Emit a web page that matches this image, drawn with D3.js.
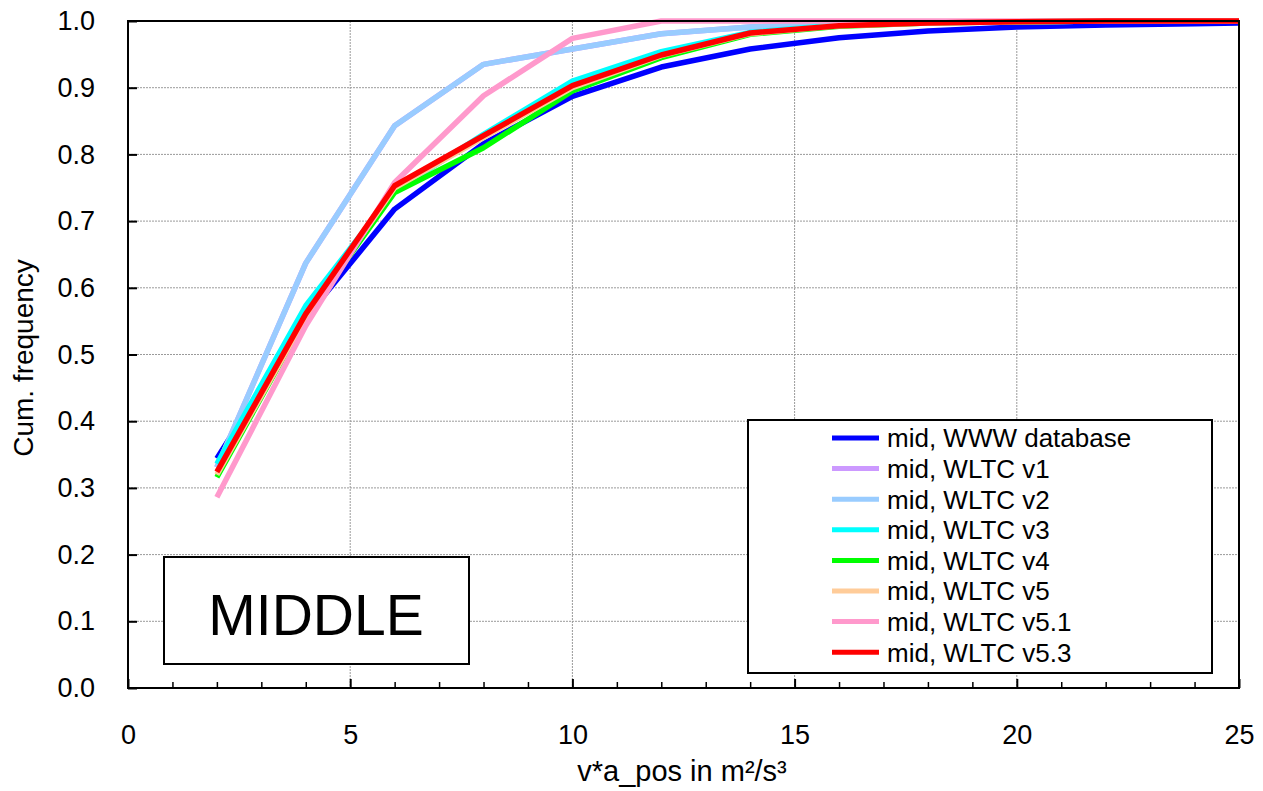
<!DOCTYPE html>
<html>
<head>
<meta charset="utf-8">
<script src="https://cdn.jsdelivr.net/npm/d3@7"></script>
<style>
  html, body { margin: 0; padding: 0; background: #fff; }
  svg { display: block; font-family: "Liberation Sans", Arial, sans-serif; }
</style>
</head>
<body>
<svg id="chart" width="1263" height="791"></svg>
<script>
// Cumulative frequency of v*a_pos, middle-speed phase
const xValues = [2, 4, 6, 8, 10, 12, 14, 16, 18, 20, 22, 24, 25];

const seriesNames = [
  "mid, WWW database",
  "mid, WLTC v1",
  "mid, WLTC v2",
  "mid, WLTC v3",
  "mid, WLTC v4",
  "mid, WLTC v5",
  "mid, WLTC v5.1",
  "mid, WLTC v5.3"
];
const seriesColors = ["#0000ff", "#cc99ff", "#99ccff", "#00ffff", "#00ff00", "#ffcc99", "#ff99cc", "#ff0000"];

const wwwDatabase = [0.344, 0.555, 0.718, 0.816, 0.887, 0.931, 0.958, 0.975, 0.985, 0.991, 0.994, 0.996, 0.997];
const wltcV1      = [0.331, 0.637, 0.843, 0.935, 0.958, 0.981, 0.991, 0.996, 0.998, 0.999, 1.000, 1.000, 1.000];
const wltcV2      = [0.331, 0.637, 0.843, 0.935, 0.958, 0.981, 0.991, 0.996, 0.998, 0.999, 1.000, 1.000, 1.000];
const wltcV3      = [0.336, 0.573, 0.745, 0.830, 0.910, 0.954, 0.983, 0.994, 0.998, 0.999, 1.000, 1.000, 1.000];
const wltcV4      = [0.316, 0.556, 0.743, 0.810, 0.895, 0.945, 0.980, 0.992, 0.997, 0.999, 1.000, 1.000, 1.000];
const wltcV5      = [0.320, 0.556, 0.750, 0.825, 0.900, 0.948, 0.981, 0.993, 0.997, 0.999, 1.000, 1.000, 1.000];
const wltcV51     = [0.286, 0.543, 0.758, 0.888, 0.974, 1.000, 1.000, 1.000, 1.000, 1.000, 1.000, 1.000, 1.000];
const wltcV53     = [0.324, 0.561, 0.753, 0.828, 0.903, 0.949, 0.982, 0.993, 0.997, 0.999, 1.000, 1.000, 1.000];

const seriesValues = [wwwDatabase, wltcV1, wltcV2, wltcV3, wltcV4, wltcV5, wltcV51, wltcV53];

const xTicks = [0, 5, 10, 15, 20, 25];
const yTicks = [0, 0.1, 0.2, 0.3, 0.4, 0.5, 0.6, 0.7, 0.8, 0.9, 1.0];
const xTitle = "v*a_pos in m²/s³";
const yTitle = "Cum. frequency";
const phaseLabel = "MIDDLE";

const svg = d3.select("#chart");
const plot = { left: 128, right: 1239, top: 21, bottom: 688 };

const x = d3.scaleLinear().domain([0, 25]).range([plot.left, plot.right]);
const y = d3.scaleLinear().domain([0, 1]).range([plot.bottom, plot.top]);

// grid
const grid = svg.append("g").attr("stroke", "#9a9a9a").attr("stroke-width", 1).attr("stroke-dasharray", "2,1");
grid.selectAll(".gx").data(xTicks.slice(1, -1)).join("line")
  .attr("x1", d => x(d)).attr("x2", d => x(d))
  .attr("y1", plot.top).attr("y2", plot.bottom);
grid.selectAll(".gy").data(yTicks.slice(1, -1)).join("line")
  .attr("x1", plot.left).attr("x2", plot.right)
  .attr("y1", d => y(d)).attr("y2", d => y(d));

// series lines
const line = d3.line().x((d, i) => x(xValues[i])).y(d => y(d));
svg.append("clipPath").attr("id", "plotClip").append("rect")
  .attr("x", plot.left).attr("y", plot.top - 3)
  .attr("width", plot.right - plot.left).attr("height", plot.bottom - plot.top + 3);
svg.append("g").attr("clip-path", "url(#plotClip)")
  .selectAll("path").data(seriesValues).join("path")
  .attr("d", d => line(d))
  .attr("fill", "none")
  .attr("stroke", (d, i) => seriesColors[i])
  .attr("stroke-width", 5.5)
  .attr("stroke-linejoin", "round");

// axes
const fontSize = 27;
const yAxis = d3.axisLeft(y).tickValues(yTicks).tickFormat(d3.format(".1f")).tickSize(-9).tickPadding(33);
const gy = svg.append("g").attr("transform", `translate(${plot.left},0)`).call(yAxis);
gy.select(".domain").remove();
gy.selectAll(".tick line").attr("stroke", "#000").attr("stroke-width", 2);
gy.selectAll(".tick text").attr("font-size", fontSize).attr("fill", "#000").attr("font-family", "Liberation Sans, Arial, sans-serif");

const xAxis = d3.axisBottom(x).tickValues(xTicks).tickFormat(d3.format("d")).tickSize(-9).tickPadding(37);
const gx = svg.append("g").attr("transform", `translate(0,${plot.bottom})`).call(xAxis);
gx.select(".domain").remove();
gx.selectAll(".tick line").attr("stroke", "#000").attr("stroke-width", 2);
gx.selectAll(".tick text").attr("font-size", fontSize).attr("fill", "#000").attr("font-family", "Liberation Sans, Arial, sans-serif");

const xMinor = d3.axisBottom(x).tickValues(d3.range(1, 25).filter(v => v % 5 !== 0)).tickFormat("").tickSize(-6);
const gxm = svg.append("g").attr("transform", `translate(0,${plot.bottom})`).call(xMinor);
gxm.select(".domain").remove();
gxm.selectAll(".tick line").attr("stroke", "#000").attr("stroke-width", 1.5);

// frame
svg.append("rect")
  .attr("x", plot.left).attr("y", plot.top)
  .attr("width", plot.right - plot.left).attr("height", plot.bottom - plot.top)
  .attr("fill", "none").attr("stroke", "#000").attr("stroke-width", 2);

// axis titles
svg.append("text").attr("x", 682).attr("y", 781)
  .attr("text-anchor", "middle").attr("font-size", 29).text(xTitle);
svg.append("text").attr("transform", "translate(33,358) rotate(-90)")
  .attr("text-anchor", "middle").attr("font-size", 28).text(yTitle);

// phase label box
svg.append("rect").attr("x", 164).attr("y", 557).attr("width", 305).attr("height", 107)
  .attr("fill", "#fff").attr("stroke", "#000").attr("stroke-width", 2);
svg.append("text").attr("x", 316).attr("y", 635).attr("text-anchor", "middle")
  .attr("font-size", 57).text(phaseLabel);

// legend
const legend = svg.append("g");
legend.append("rect").attr("x", 748).attr("y", 420).attr("width", 464).attr("height", 253)
  .attr("fill", "#fff").attr("stroke", "#000").attr("stroke-width", 2);
const rows = legend.selectAll("g.row").data(seriesNames).join("g")
  .attr("transform", (d, i) => `translate(0,${438 + i * 30.6})`);
rows.append("line").attr("x1", 832).attr("x2", 879).attr("y1", 0).attr("y2", 0)
  .attr("stroke", (d, i) => seriesColors[i]).attr("stroke-width", 5);
rows.append("text").attr("x", 887).attr("y", 0).attr("dy", "0.36em")
  .attr("font-size", 26).text(d => d);
</script>
</body>
</html>
